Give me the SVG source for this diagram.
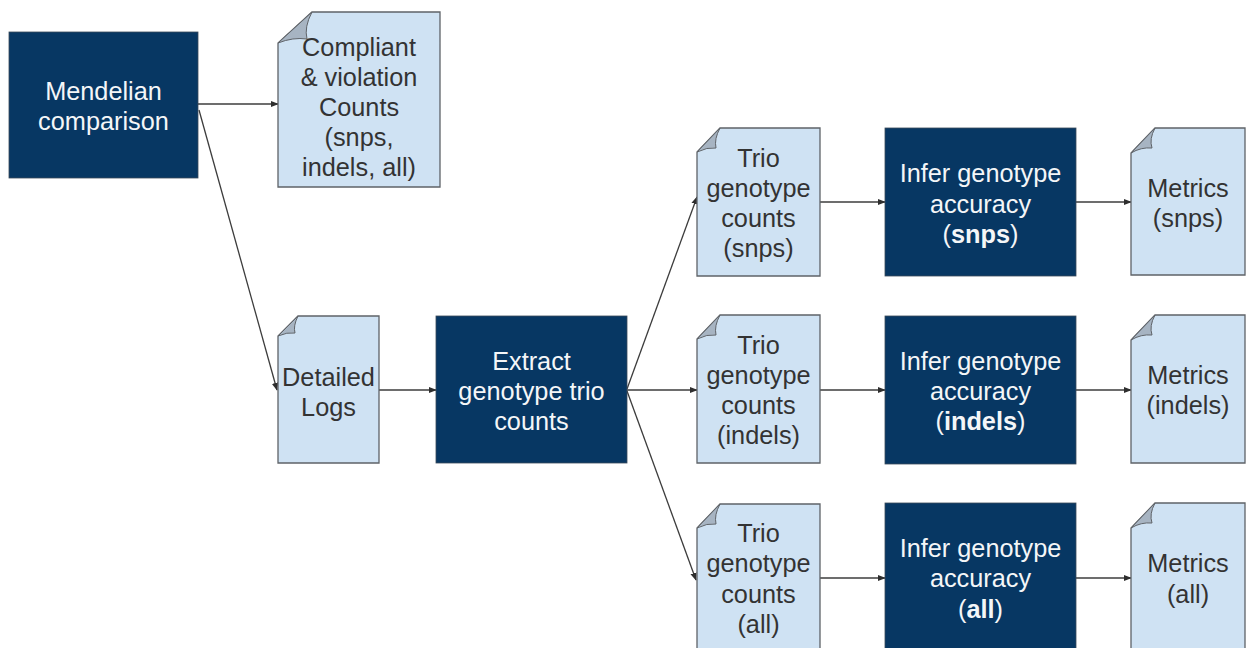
<svg xmlns="http://www.w3.org/2000/svg" width="1250" height="648" viewBox="0 0 1250 648">
  <style>
    .proc { fill: #073763; stroke: #3a4a5a; stroke-width: 0.8; }
    .doc { fill: #cfe2f3; stroke: #5f6368; stroke-width: 1.3; }
    .fold { fill: #a7b4c2; stroke: #5f6368; stroke-width: 1; }
    text { font-family: "Liberation Sans", Arial, sans-serif; font-size: 25.3px; text-anchor: middle; dominant-baseline: central; }
    .light { fill: #f4f6f8; }
    .dark { fill: #333333; }
    .b { font-weight: bold; }
    .conn { stroke: #3c3c3c; stroke-width: 1.3; fill: none; marker-end: url(#arrow); }
  </style>
  <defs>
    <marker id="arrow" viewBox="0 0 10 10" refX="9" refY="5" markerWidth="8" markerHeight="8" markerUnits="userSpaceOnUse" orient="auto">
      <path d="M0,1 L10,5 L0,9 Z" fill="#2e2e2e"/>
    </marker>
  </defs>
  <rect width="1250" height="648" fill="#ffffff"/>

  <!-- connectors -->
  <g id="connectors">
    <line class="conn" x1="198" y1="104" x2="278" y2="104"/>
    <line class="conn" x1="199" y1="110" x2="277" y2="390"/>
    <line class="conn" x1="379" y1="390" x2="436" y2="390"/>
    <line class="conn" x1="627" y1="389" x2="697" y2="197"/>
    <line class="conn" x1="627" y1="390" x2="697" y2="390"/>
    <line class="conn" x1="627" y1="391" x2="696" y2="580"/>
    <line class="conn" x1="820" y1="202" x2="885" y2="202"/>
    <line class="conn" x1="820" y1="390" x2="885" y2="390"/>
    <line class="conn" x1="820" y1="578" x2="885" y2="578"/>
    <line class="conn" x1="1076" y1="202" x2="1131" y2="202"/>
    <line class="conn" x1="1076" y1="390" x2="1131" y2="390"/>
    <line class="conn" x1="1076" y1="578" x2="1131" y2="578"/>
  </g>

  <!-- process boxes and documents -->
  <g id="mendelian">
    <rect class="proc" x="9" y="32" width="189" height="146"/>
    <text class="light" x="103.5" y="91">Mendelian</text>
    <text class="light" x="103.5" y="121">comparison</text>
  </g>

  <g id="compliant">
    <path class="doc" d="M312,12 H440 V187 H278 V43 Z"/>
    <path class="fold" d="M278,43 L312,12 Q304,27 307,39 Q293,37 278,43 Z"/>
    <text class="dark" x="359" y="47">Compliant</text>
    <text class="dark" x="359" y="77">&amp; violation</text>
    <text class="dark" x="359" y="107">Counts</text>
    <text class="dark" x="359" y="137">(snps,</text>
    <text class="dark" x="359" y="167">indels, all)</text>
  </g>

  <g id="detailed-logs">
    <path class="doc" d="M298,316 H379 V463 H278 V336 Z"/>
    <path class="fold" d="M278,336 L298,316 Q293,326 295,333 Q287,332 278,336 Z"/>
    <text class="dark" x="328.5" y="377">Detailed</text>
    <text class="dark" x="328.5" y="407">Logs</text>
  </g>

  <g id="extract">
    <rect class="proc" x="436" y="316" width="191" height="147"/>
    <text class="light" x="531.5" y="361">Extract</text>
    <text class="light" x="531.5" y="391">genotype trio</text>
    <text class="light" x="531.5" y="421">counts</text>
  </g>

  <g id="trio-snps">
    <path class="doc" d="M720,128 H820 V276 H697 V152 Z"/>
    <path class="fold" d="M697,152 L720,128 Q714,139 716,148 Q707,147 697,152 Z"/>
    <text class="dark" x="758.5" y="158">Trio</text>
    <text class="dark" x="758.5" y="188">genotype</text>
    <text class="dark" x="758.5" y="218">counts</text>
    <text class="dark" x="758.5" y="248">(snps)</text>
  </g>

  <g id="trio-indels">
    <path class="doc" d="M720,315 H820 V463 H697 V339 Z"/>
    <path class="fold" d="M697,339 L720,315 Q714,326 716,335 Q707,334 697,339 Z"/>
    <text class="dark" x="758.5" y="345">Trio</text>
    <text class="dark" x="758.5" y="375">genotype</text>
    <text class="dark" x="758.5" y="405">counts</text>
    <text class="dark" x="758.5" y="435">(indels)</text>
  </g>

  <g id="trio-all">
    <path class="doc" d="M720,504 H820 V652 H697 V528 Z"/>
    <path class="fold" d="M697,528 L720,504 Q714,515 716,524 Q707,523 697,528 Z"/>
    <text class="dark" x="758.5" y="533">Trio</text>
    <text class="dark" x="758.5" y="563">genotype</text>
    <text class="dark" x="758.5" y="594">counts</text>
    <text class="dark" x="758.5" y="624">(all)</text>
  </g>

  <g id="infer-snps">
    <rect class="proc" x="885" y="128" width="191" height="148"/>
    <text class="light" x="980.5" y="173">Infer genotype</text>
    <text class="light" x="980.5" y="204">accuracy</text>
    <text class="light" x="980.5" y="234">(<tspan class="b">snps</tspan>)</text>
  </g>

  <g id="infer-indels">
    <rect class="proc" x="885" y="316" width="191" height="148"/>
    <text class="light" x="980.5" y="361">Infer genotype</text>
    <text class="light" x="980.5" y="391">accuracy</text>
    <text class="light" x="980.5" y="421">(<tspan class="b">indels</tspan>)</text>
  </g>

  <g id="infer-all">
    <rect class="proc" x="885" y="503" width="191" height="150"/>
    <text class="light" x="980.5" y="548">Infer genotype</text>
    <text class="light" x="980.5" y="578">accuracy</text>
    <text class="light" x="980.5" y="609">(<tspan class="b">all</tspan>)</text>
  </g>

  <g id="metrics-snps">
    <path class="doc" d="M1155,128 H1245 V275 H1131 V153 Z"/>
    <path class="fold" d="M1131,153 L1155,128 Q1149,139 1152,148 Q1141,147 1131,153 Z"/>
    <text class="dark" x="1188" y="188">Metrics</text>
    <text class="dark" x="1188" y="218">(snps)</text>
  </g>

  <g id="metrics-indels">
    <path class="doc" d="M1155,315 H1245 V463 H1131 V340 Z"/>
    <path class="fold" d="M1131,340 L1155,315 Q1149,326 1152,335 Q1141,334 1131,340 Z"/>
    <text class="dark" x="1188" y="375">Metrics</text>
    <text class="dark" x="1188" y="405">(indels)</text>
  </g>

  <g id="metrics-all">
    <path class="doc" d="M1155,503 H1245 V652 H1131 V528 Z"/>
    <path class="fold" d="M1131,528 L1155,503 Q1149,514 1152,523 Q1141,522 1131,528 Z"/>
    <text class="dark" x="1188" y="563">Metrics</text>
    <text class="dark" x="1188" y="594">(all)</text>
  </g>
</svg>
